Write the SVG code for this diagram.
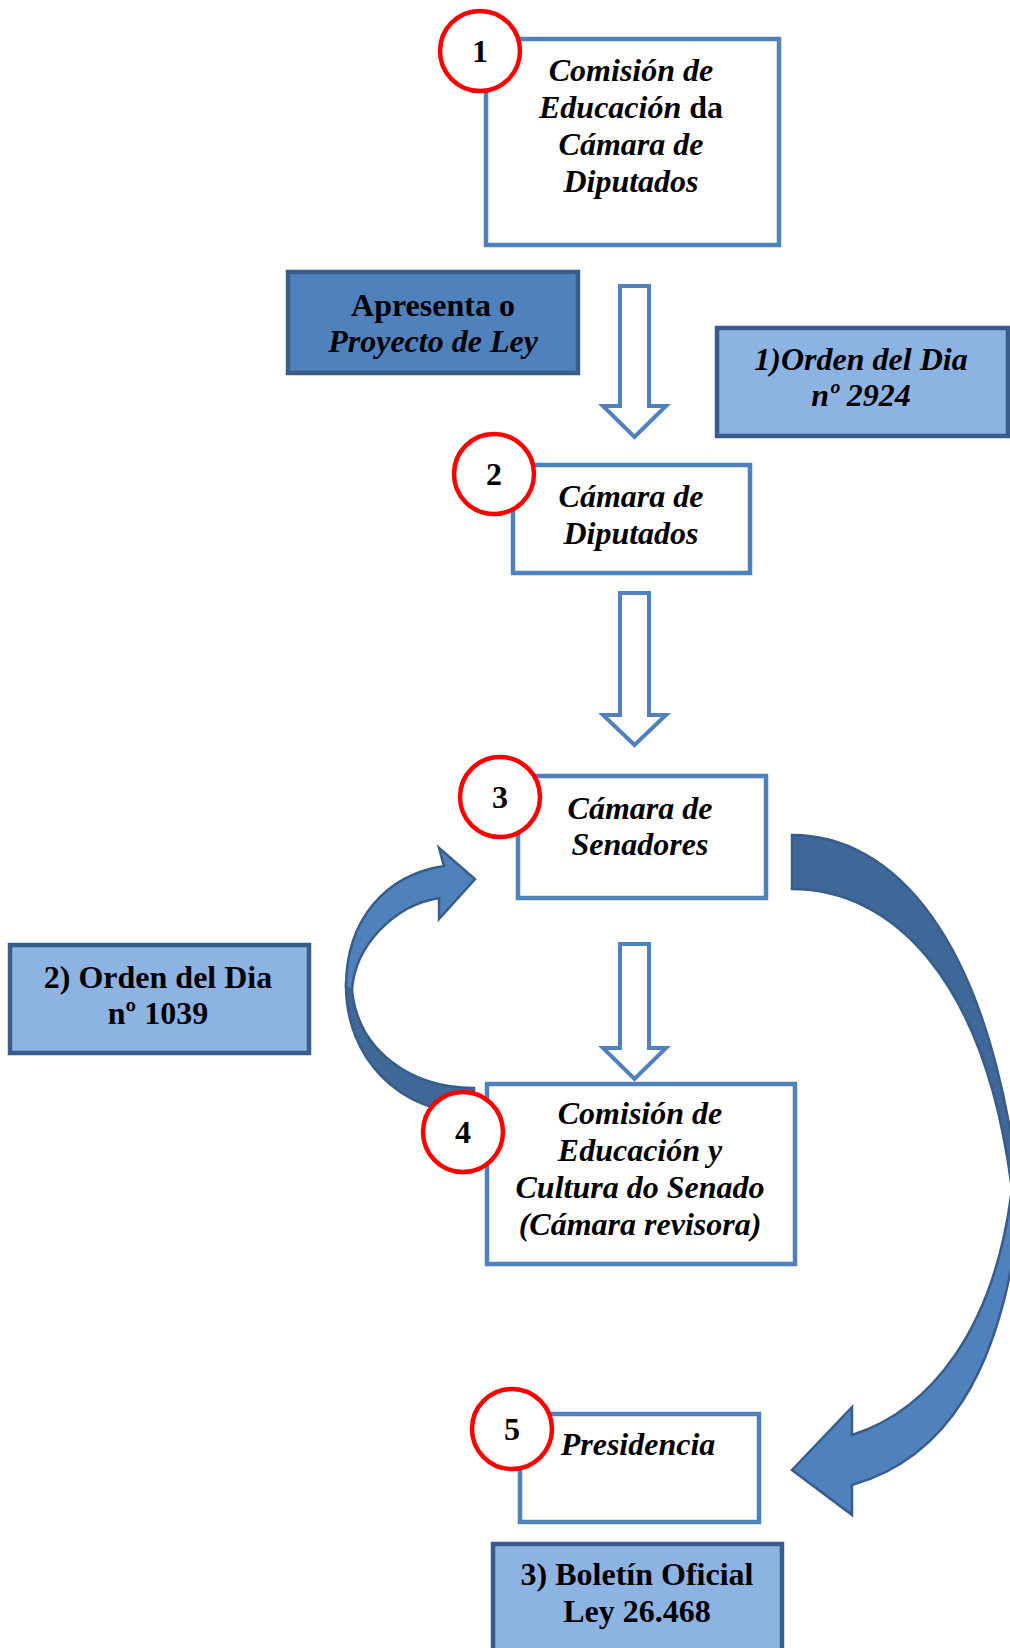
<svg xmlns="http://www.w3.org/2000/svg" width="1010" height="1648" viewBox="0 0 1010 1648">
<style>
.box{fill:#ffffff;stroke:#4f81bd;stroke-width:4.5}
.dbox{fill:#4f81bd;stroke:#385d8a;stroke-width:4.5}
.lbox{fill:#8db3e2;stroke:#385d8a;stroke-width:4.5}
.num{fill:#ffffff;stroke:#ff0000;stroke-width:4.5}
.hollow{fill:#ffffff;stroke:#4f81bd;stroke-width:4}
.curL{fill:#4f81bd;stroke:#385d8a;stroke-width:2.5}
.curD{fill:#3f6797;stroke:#385d8a;stroke-width:2.5}
text{font-family:"Liberation Serif","Times New Roman",serif;font-size:32px;font-weight:bold;fill:#000000;text-anchor:middle}
.it{font-style:italic}
.up{font-style:normal}
</style>
<rect width="1010" height="1648" fill="#ffffff"/>
<g id="connectors">
<path class="hollow" d="M620,286 H649 V406 H666 L634.5,437 L603,406 H620 Z"/>
<path class="hollow" d="M620,593 H649 V715 H666 L634.5,745 L603,715 H620 Z"/>
<path class="hollow" d="M620,944 H649 V1048 H666 L634.5,1079 L603,1048 H620 Z"/>
<path class="curD" d="M346,985 C346,1060 400,1112 474,1115 L474,1088 C410,1088 358,1050 352,990 Z"/>
<path class="curL" d="M444,866 L439,848 L475,879 L439,919 L439,898 C395,905 355,945 352,990 L346,987 C346,920 385,875 444,866 Z"/>
<path class="curD" d="M792,835 C890,835 990,930 1020,1200 L1040,1200 L1012,1190 C985,975 890,889 792,889 Z"/>
<path class="curL" d="M852,1435 L852,1407 L792,1470 L852,1515 L852,1485 C940,1460 1005,1380 1022,1190 L1012,1188 C995,1330 930,1410 852,1435 Z"/>
</g>
<g id="n1">
<rect class="box" x="486" y="39" width="293" height="206"/>
<text class="it" x="631" y="81">Comisión de</text>
<text x="631" y="118"><tspan class="it">Educación</tspan><tspan class="up"> da</tspan></text>
<text class="it" x="631" y="155">Cámara de</text>
<text class="it" x="631" y="192">Diputados</text>
<circle class="num" cx="480" cy="51" r="40"/>
<text class="up" x="480" y="62">1</text>
</g>
<g id="apresenta">
<rect class="dbox" x="288" y="272" width="290" height="101"/>
<text class="up" x="433" y="316">Apresenta o</text>
<text class="it" x="433" y="352">Proyecto de Ley</text>
</g>
<g id="orden1">
<rect class="lbox" x="717" y="328" width="291" height="108"/>
<text class="it" x="861" y="370">1)Orden del Dia</text>
<text class="it" x="861" y="406">nº 2924</text>
</g>
<g id="n2">
<rect class="box" x="513" y="465" width="237" height="108"/>
<text class="it" x="631" y="507">Cámara de</text>
<text class="it" x="631" y="544">Diputados</text>
<circle class="num" cx="494" cy="474" r="40"/>
<text class="up" x="494" y="485">2</text>
</g>
<g id="n3">
<rect class="box" x="518" y="776" width="248" height="122"/>
<text class="it" x="640" y="819">Cámara de</text>
<text class="it" x="640" y="855">Senadores</text>
<circle class="num" cx="500" cy="797" r="40"/>
<text class="up" x="500" y="808">3</text>
</g>
<g id="orden2">
<rect class="lbox" x="10" y="945" width="299" height="108"/>
<text class="up" x="158" y="988">2) Orden del Dia</text>
<text class="up" x="158" y="1024">nº 1039</text>
</g>
<g id="n4">
<rect class="box" x="487" y="1084" width="308" height="180"/>
<text class="it" x="640" y="1124">Comisión de</text>
<text class="it" x="640" y="1161">Educación y</text>
<text class="it" x="640" y="1198">Cultura do Senado</text>
<text class="it" x="640" y="1235">(Cámara revisora)</text>
<circle class="num" cx="463" cy="1132" r="40"/>
<text class="up" x="463" y="1143">4</text>
</g>
<g id="n5">
<rect class="box" x="520" y="1414" width="239" height="108"/>
<text class="it" x="638" y="1455">Presidencia</text>
<circle class="num" cx="512" cy="1429" r="40"/>
<text class="up" x="512" y="1440">5</text>
</g>
<g id="boletin">
<rect class="lbox" x="493" y="1544" width="289" height="120"/>
<text class="up" x="637" y="1585">3) Boletín Oficial</text>
<text class="up" x="637" y="1622">Ley 26.468</text>
</g>
</svg>
